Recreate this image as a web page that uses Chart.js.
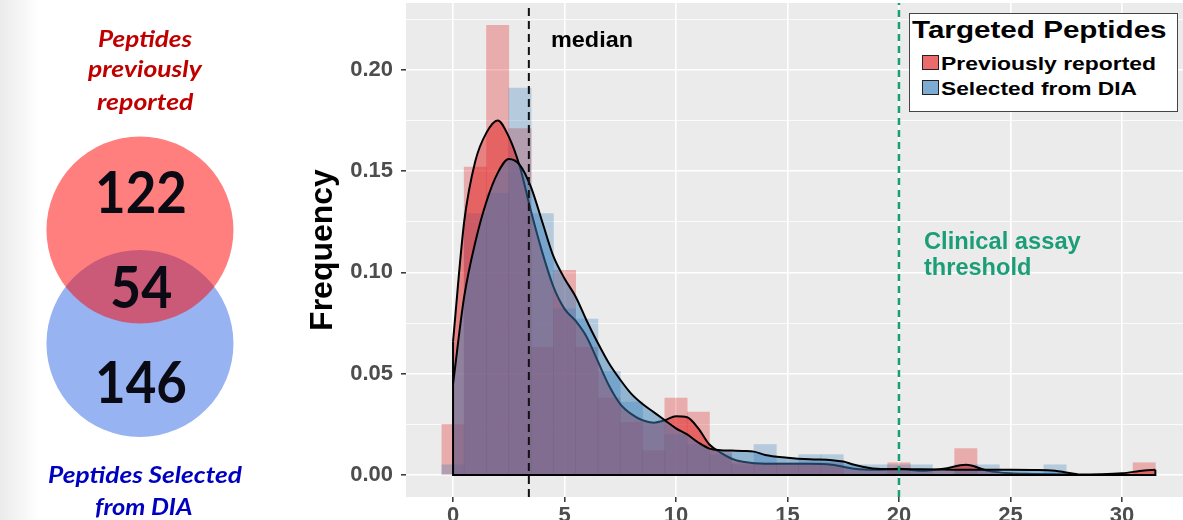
<!DOCTYPE html>
<html lang="en">
<head>
<meta charset="UTF-8" />
<title>Targeted peptides</title>
<script src="https://cdn.jsdelivr.net/npm/chart.js"></script>
<style>
  body { margin:0; width:1183px; height:520px; position:relative; overflow:hidden;
         background: linear-gradient(to right, #ebebeb 0, #f6f6f6 22px, #fff 38px);
         font-family: "Liberation Sans", Arial, sans-serif; }
  #vennBox { position:absolute; left:0; top:0; width:300px; height:520px; }
  #histBox { position:absolute; left:300px; top:0; width:883px; height:520px; }
  #legend { position:absolute; left:909px; top:13px; width:269px; height:99px; box-sizing:border-box;
            border:1.5px solid #444; background:#fff; }
  .key { position:absolute; left:922px; width:17px; height:15px; box-sizing:border-box; border:1px solid #222; }
</style>
</head>
<body>
  <div id="vennBox"><canvas id="vennChart"></canvas></div>
  <div id="histBox"><canvas id="histChart"></canvas></div>
  <div id="legend"></div>
  <div class="key" style="top:55px;background:#ed6a6b"></div>
  <div class="key" style="top:80px;background:#7dabd1"></div>

<script>
  // venn counts: only previously reported, shared, only selected from DIA
  const vennCounts = [122, 54, 146];

  // histogram, bin width 1, centred on integers
  const bins = [0,1,2,3,4,5,6,7,8,9,10,11,12,13,14,15,16,17,18,19,20,21,22,23,24,25,26,27,28,29,30,31];
  const prevHist = [0.025,0.152,0.222,0.171,0.063,0.101,0.063,0.038,0.026,0.012,0.038,0.031,0.012,0.006,0.006,0.006,
                    0.006,0.006,0,0,0.006,0,0,0.013,0,0,0,0,0,0,0,0.006];
  const diaHist  = [0.005,0.129,0.139,0.191,0.129,0.082,0.077,0.051,0.036,0.026,0.020,0.015,0.010,0.005,0.015,0.005,
                    0.010,0.010,0.005,0.005,0.005,0.005,0,0.005,0.005,0,0,0.005,0,0,0,0];

  // density curves
  const prevDensX = [0,0.5,1,1.5,2,2.5,3,3.5,4,4.5,5,5.5,6,6.5,7,7.5,8,8.5,9,9.5,10,10.5,11,11.5,12,12.5,
                     13,14,15,16,17,18,19,20,21,22,23,24,25,26,27,28,29,30,31,31.5];
  const prevDens  = [0.066,0.125,0.155,0.169,0.175,0.167,0.152,0.130,0.110,0.093,0.082,0.076,0.068,0.056,0.044,0.035,
                     0.030,0.027,0.0258,0.027,0.029,0.0285,0.023,0.015,0.011,0.008,
                     0.0065,0.0055,0.0055,0.0055,0.005,0.003,0.0025,0.003,0.002,0.003,0.005,0.002,0.0008,0.0005,
                     0.0003,0.0002,0.0003,0.0008,0.0022,0.0025];
  const diaDensX = [0,0.5,1,1.5,2,2.5,3,3.5,4,4.5,5,5.5,6,6.5,7,7.5,8,8.5,9,9.5,10,10.5,11,11.5,12,12.5,13,13.5,
                    14,15,16,17,17.5,18,19,20,21,22,23,24,25,26,27,27.5,28];
  const diaDens  = [0.045,0.088,0.115,0.135,0.149,0.156,0.153,0.142,0.125,0.108,0.097,0.088,0.076,0.065,0.055,0.047,
                    0.040,0.035,0.031,0.027,0.023,0.020,0.016,0.013,0.0122,0.012,0.0118,0.0115,
                    0.0098,0.0085,0.0077,0.0073,0.0066,0.005,0.003,0.0028,0.0028,0.0027,0.0025,0.0025,0.0025,0.0024,
                    0.0021,0.0012,0.0003];

  const medianValue = 3.4;
  const thresholdValue = 20;
  const xTicks = [0,5,10,15,20,25,30];
  const yTicks = [0,0.05,0.10,0.15,0.20];
  const yMinor = [0.025,0.075,0.125,0.175,0.225];

  Chart.defaults.animation = false;
  Chart.defaults.font.family = '"Liberation Sans", Arial, sans-serif';

  // ---- venn ----
  new Chart(document.getElementById("vennChart"), {
    type: "bubble",
    data: {
      datasets: [
        { data: [{ x: 0, y: 0.5, r: 93.5 }], backgroundColor: "rgba(255,0,0,0.5)", borderWidth: 0, clip: false, order: 1 },
        { data: [{ x: 0, y: -0.5, r: 93.5 }], backgroundColor: "#97b3f1", borderWidth: 0, clip: false, order: 2 }
      ]
    },
    options: {
      responsive: true, maintainAspectRatio: false, events: [],
      layout: { padding: 0, autoPadding: false },
      plugins: { legend: { display: false }, tooltip: { enabled: false } },
      scales: {
        x: { display: false, min: -1.233, max: 1.41 },
        y: { display: false, min: -2.055, max: 2.526 }
      }
    }
  });

  // ---- histogram + densities ----
  const isMajor = v => Math.abs(v * 20 - Math.round(v * 20)) < 1e-6;
  const yMin = -0.0109, yMax = 0.233;
  const pts = (xs, ys) => xs.map((x, i) => ({ x, y: ys[i] }));

  const panelBg = {
    id: "panelBg",
    beforeDraw(chart) {
      const { ctx, chartArea: a } = chart;
      ctx.save();
      ctx.fillStyle = "#ebebeb";
      ctx.fillRect(a.left, a.top, a.right - a.left, a.bottom - a.top);
      ctx.restore();
    }
  };

  const densLine = { fill: "origin", borderColor: "#000", borderWidth: 2, pointRadius: 0,
                     cubicInterpolationMode: "monotone" };

  new Chart(document.getElementById("histChart"), {
    type: "bar",
    data: {
      datasets: [
        { data: pts(bins, prevHist), backgroundColor: "rgba(228,26,28,0.3)", barPercentage: 1,
          categoryPercentage: 1, grouped: false, order: 10 },
        { data: pts(bins, diaHist), backgroundColor: "rgba(55,126,184,0.3)", barPercentage: 1,
          categoryPercentage: 1, grouped: false, order: 9 },
        Object.assign({ type: "line", data: pts(prevDensX, prevDens), backgroundColor: "rgba(228,26,28,0.5)", order: 6 }, densLine),
        Object.assign({ type: "line", data: pts(diaDensX, diaDens), backgroundColor: "rgba(55,126,184,0.5)", order: 5 }, densLine),
        { type: "line", order: 4, borderColor: "#000", borderWidth: 2, pointRadius: 0, tension: 0, fill: false,
          data: [{ x: prevDensX[0], y: prevDens[0] }, { x: prevDensX[0], y: 0 },
                 { x: prevDensX[prevDensX.length - 1], y: 0 },
                 { x: prevDensX[prevDensX.length - 1], y: prevDens[prevDens.length - 1] }] },
        { type: "line", order: 2, borderColor: "#111", borderWidth: 2, borderDash: [8, 5], pointRadius: 0, fill: false,
          data: [{ x: medianValue, y: yMin }, { x: medianValue, y: yMax }] },
        { type: "line", order: 2, borderColor: "#1b9e77", borderWidth: 2.5, borderDash: [7, 5], pointRadius: 0, fill: false,
          data: [{ x: thresholdValue, y: yMin }, { x: thresholdValue, y: yMax }] }
      ]
    },
    options: {
      responsive: true, maintainAspectRatio: false, events: [],
      layout: { padding: { top: 3, right: 0, bottom: 0, left: 0 } },
      plugins: { legend: { display: false }, tooltip: { enabled: false } },
      scales: {
        x: {
          type: "linear", min: -2.11, max: 32.74, offset: false,
          grid: { offset: false, color: "#fff", lineWidth: 1.6, tickLength: 5, tickColor: "#333", tickWidth: 1.5 },
          border: { display: false },
          afterBuildTicks: s => { s.ticks = xTicks.map(v => ({ value: v })); },
          afterFit: s => { s.height = 23; s.paddingLeft = 0; s.paddingRight = 0; },
          ticks: { autoSkip: false, maxRotation: 0, padding: 1, color: "#4d4d4d",
                   font: { size: 22, weight: "bold" } }
        },
        y: {
          min: yMin, max: yMax,
          grid: {
            color: "#fff",
            lineWidth: c => (c.tick && isMajor(c.tick.value) ? 1.6 : 0.8),
            tickLength: 5, tickWidth: 1.5,
            tickColor: c => (c.tick && isMajor(c.tick.value) ? "#333" : "rgba(0,0,0,0)")
          },
          border: { display: false },
          afterBuildTicks: s => { s.ticks = yTicks.concat(yMinor).sort((a, b) => a - b).map(v => ({ value: v })); },
          afterFit: s => { s.width = 106; s.paddingTop = 0; s.paddingBottom = 0; },
          ticks: { autoSkip: false, padding: 8, color: "#4d4d4d", font: { size: 22, weight: "bold" },
                   callback: v => (isMajor(v) ? v.toFixed(2) : "") },
          title: { display: true, text: "Frequency", color: "#000", padding: { top: 4, bottom: 0 },
                   font: { size: 32, weight: "bold" } }
        }
      }
    },
    plugins: [panelBg]
  });

  // ---- text overlays (baseline positioned, stretched to measured width) ----
  function addText(txt, o) {
    const d = document.createElement("div");
    d.style.cssText = "position:absolute;left:0;top:0;white-space:nowrap;line-height:1;" +
      "font:" + (o.style || "normal") + " bold " + o.size + "px " + (o.font || '"Liberation Sans", Arial') + ";" +
      "color:" + (o.color || "#000");
    d.textContent = txt;
    const m = document.createElement("span");
    m.style.cssText = "display:inline-block;width:0;height:0;vertical-align:baseline";
    d.appendChild(m);
    document.body.appendChild(d);
    const base = m.offsetTop;
    const w = d.offsetWidth;
    const sx = o.w ? o.w / w : 1;
    d.style.transformOrigin = "0 0";
    d.style.transform = "scaleX(" + sx + ")";
    d.style.left = (o.center ? o.x - (w * sx) / 2 : o.x) + "px";
    d.style.top = (o.y - base) + "px";
  }

  const vennLbl = { size: 23, font: "Lato", style: "italic", center: true };
  addText("Peptides", Object.assign({ x: 145, y: 47, w: 94, color: "#c00000" }, vennLbl));
  addText("previously", Object.assign({ x: 145, y: 77, w: 114, color: "#c00000" }, vennLbl));
  addText("reported", Object.assign({ x: 145, y: 110, w: 96, color: "#c00000" }, vennLbl));
  addText("Peptides Selected", Object.assign({ x: 145, y: 483, w: 194, color: "#0000c0" }, vennLbl));
  addText("from DIA", Object.assign({ x: 144, y: 515, w: 98, color: "#0000c0" }, vennLbl));

  const numLbl = { size: 58, font: "Lato", center: true, color: "#0a0a14" };
  addText(String(vennCounts[0]), Object.assign({ x: 141, y: 213, w: 92 }, numLbl));
  addText(String(vennCounts[1]), Object.assign({ x: 141, y: 308, w: 62 }, numLbl));
  addText(String(vennCounts[2]), Object.assign({ x: 141, y: 403, w: 92 }, numLbl));

  addText("median", { x: 551, y: 47, size: 22, w: 82 });
  addText("Clinical assay", { x: 924, y: 249, size: 24, w: 157, color: "#1b9e77" });
  addText("threshold", { x: 924, y: 275, size: 24, w: 107, color: "#1b9e77" });

  addText("Targeted Peptides", { x: 912, y: 38, size: 23, w: 255 });
  addText("Previously reported", { x: 941, y: 70, size: 18, w: 215 });
  addText("Selected from DIA", { x: 941, y: 95, size: 18, w: 196 });
</script>
</body>
</html>
